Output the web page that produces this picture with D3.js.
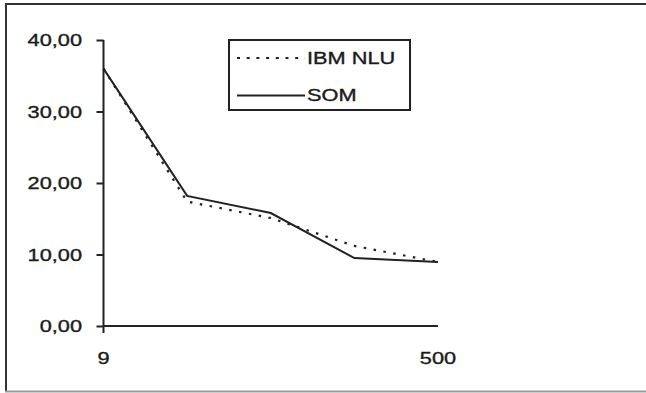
<!DOCTYPE html>
<html>
<head>
<meta charset="utf-8">
<script src="https://cdn.jsdelivr.net/npm/d3@7"></script>
<style>
  html, body { margin: 0; padding: 0; background: #fff; overflow: hidden; }
  svg { display: block; }
  text { font-family: "Liberation Sans", Arial, sans-serif; fill: #1a1a1a; stroke: #1a1a1a; stroke-width: 0.35px; }
</style>
</head>
<body>
<svg id="chart" width="646" height="393"></svg>
<script>
// Series values, one per category step
const categories = [0, 1, 2, 3, 4];
const xTickLabels = ["9", "", "", "", "500"];
const ibmNlu = [36.0, 17.4, 15.1, 11.2, 8.95];
const som = [36.0, 18.2, 15.8, 9.5, 8.95];
const yTicks = [0, 10, 20, 30, 40];
const seriesNames = ["IBM NLU", "SOM"];

const svg = d3.select("#chart");
const ink = "#222";
const fmt = v => d3.format(".2f")(v).replace(".", ",");
const sx = 1.28; // horizontal stretch applied to the text glyphs
const fontSize = 17;

// outer frame: left and top edges dark, bottom edge light, right edge beyond the view
svg.append("line").attr("x1", 6).attr("x2", 6).attr("y1", 3).attr("y2", 392)
  .attr("stroke", "#333").attr("stroke-width", 2);
svg.append("line").attr("x1", 5).attr("x2", 646).attr("y1", 4).attr("y2", 4)
  .attr("stroke", "#333").attr("stroke-width", 2);
svg.append("line").attr("x1", 5).attr("x2", 646).attr("y1", 391.5).attr("y2", 391.5)
  .attr("stroke", "#9a9a9a").attr("stroke-width", 2);

const x = d3.scalePoint().domain(categories).range([103.5, 438]);
const y = d3.scaleLinear().domain([0, 40]).range([326, 40]);

// stretched text helper
function label(g, tx, ty, str, anchor) {
  g.append("text")
    .attr("transform", `translate(${tx},${ty}) scale(${sx},1)`)
    .attr("text-anchor", anchor)
    .attr("font-size", fontSize)
    .text(str);
}

// y axis
const yAxis = d3.axisLeft(y).tickValues(yTicks).tickSize(7).tickFormat("");
const gy = svg.append("g").attr("transform", `translate(${x(0)},0)`).call(yAxis);
gy.select(".domain").attr("d", `M0,${y(40)}V${y(0) + 7}`);
gy.selectAll("line, path").attr("stroke", ink).attr("stroke-width", 2);
yTicks.forEach(v => label(svg, 82, y(v) + 6, fmt(v), "end"));

// x axis
const xAxis = d3.axisBottom(x).tickSize(0).tickFormat("");
const gx = svg.append("g").attr("transform", `translate(0,${y(0)})`).call(xAxis);
gx.select(".domain").attr("d", `M${x(0)},0H${x(4)}`);
gx.selectAll("line, path").attr("stroke", ink).attr("stroke-width", 2);
categories.forEach((c, i) => {
  if (xTickLabels[i]) label(svg, x(c), 364, xTickLabels[i], "middle");
});

// lines
const line = d3.line().x((d, i) => x(categories[i])).y(d => y(d));
svg.append("path").datum(ibmNlu)
  .attr("d", line).attr("fill", "none")
  .attr("stroke", ink).attr("stroke-width", 2.2)
  .attr("stroke-dasharray", "2.5,7.5");
svg.append("path").datum(som)
  .attr("d", line).attr("fill", "none")
  .attr("stroke", ink).attr("stroke-width", 2);

// legend
const lg = svg.append("g");
lg.append("rect").attr("x", 229).attr("y", 40).attr("width", 181).attr("height", 70)
  .attr("fill", "#fff").attr("stroke", ink).attr("stroke-width", 2);
lg.append("line").attr("x1", 237).attr("x2", 305).attr("y1", 58).attr("y2", 58)
  .attr("stroke", ink).attr("stroke-width", 2.2).attr("stroke-dasharray", "3,6.7");
lg.append("line").attr("x1", 237).attr("x2", 305).attr("y1", 95.5).attr("y2", 95.5)
  .attr("stroke", ink).attr("stroke-width", 2);
label(lg, 307, 64, seriesNames[0], "start");
label(lg, 307, 101, seriesNames[1], "start");
</script>
</body>
</html>
